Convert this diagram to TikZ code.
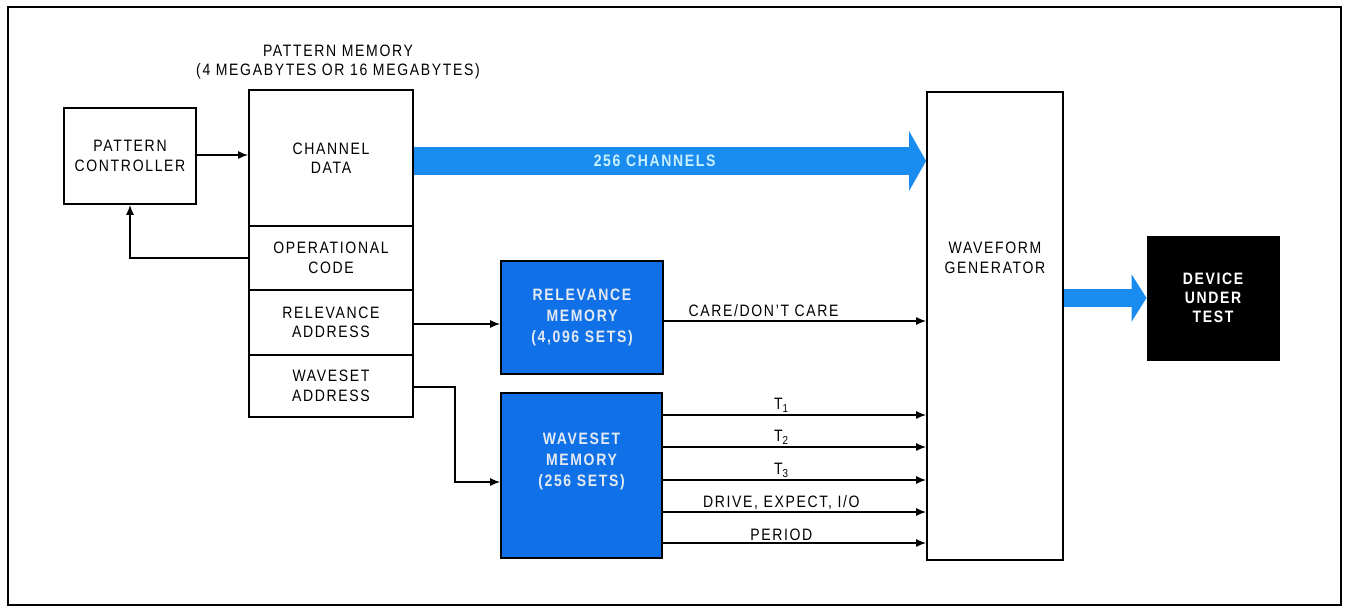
\documentclass[tikz,border=0pt]{standalone}
\usepackage{fontspec}
\setmainfont{Liberation Sans}[FakeStretch=0.85,LetterSpace=10]
\usetikzlibrary{arrows.meta,positioning,calc}

\definecolor{boxblue}{RGB}{16,112,232}
\definecolor{flowblue}{RGB}{26,140,240}
\definecolor{flowtext}{RGB}{200,240,255}
\definecolor{boxtext}{RGB}{228,234,242}

\begin{document}
\begin{tikzpicture}[
    x=1pt,y=-1pt,
    font=\fontsize{16.5}{19.5}\selectfont,
    block/.style={rectangle,draw,line width=1.8pt,align=center,inner sep=0pt},
    memblock/.style={block,fill=boxblue,text=boxtext,font=\fontsize{16.5}{21}\selectfont\bfseries},
    txt/.style={align=center,inner sep=1pt},
    arrow/.style={line width=1.3pt,-{Latex[length=10pt,width=8pt]}},
    bus/.style={draw=flowblue,line width=#1}
]
    \useasboundingbox (0,0) rectangle (1351,608);
    \draw[line width=2.4pt] (8,7) rectangle (1341,605);

    % pattern memory column
    \node[txt] (title) at (338,62) {PATTERN MEMORY\\(4 MEGABYTES OR 16 MEGABYTES)};
    \node[block,minimum width=132,minimum height=96] (ctrl) at (130,156) {PATTERN\\CONTROLLER};
    \node[block,minimum width=164,minimum height=136] (chdata) at (331,158) {CHANNEL\\DATA};
    \node[block,minimum width=164,minimum height=64] (opcode) at (331,258) {OPERATIONAL\\CODE};
    \node[block,minimum width=164,minimum height=65] (reladdr) at (331,322.5) {RELEVANCE\\ADDRESS};
    \node[block,minimum width=164,minimum height=62] (wsaddr) at (331,386) {WAVESET\\ADDRESS};

    % memories
    \node[memblock,minimum width=162,minimum height=113] (relmem) at (582,317.5) {RELEVANCE\\MEMORY\\(4,096 SETS)};
    \node[memblock,minimum width=161,minimum height=165] (wsmem) at (581.5,475.5) {WAVESET\\MEMORY\\(256 SETS)\\[10pt]};

    % generator and device
    \node[block,minimum width=136,minimum height=468] (wfgen) at (995,326) {};
    \node[txt] (wflabel) at (995,258) {WAVEFORM\\GENERATOR};
    \node[block,fill=black,text=white,line width=1pt,minimum width=132,minimum height=124,
          font=\fontsize{16.5}{19}\selectfont\bfseries] (dut) at (1213,298) {DEVICE\\UNDER\\TEST};

    % wide data paths
    \draw[bus=28pt,-{Triangle[length=17pt,width=59pt]}] ([yshift=-3pt]chdata.east) -- ([yshift=-3pt]chdata.east -| wfgen.west)
        node[pos=0.47,text=flowtext,font=\fontsize{16.5}{19}\selectfont\bfseries] (chlabel) {256 CHANNELS};
    \draw[bus=18pt,-{Triangle[length=15pt,width=47pt]}] (wfgen.east |- dut.west) -- (dut.west);

    % control lines
    \draw[arrow] ([yshift=1pt]ctrl.east) -- ([yshift=1pt]ctrl.east -| chdata.west);
    \draw[arrow] (opcode.west) -| (ctrl.south);
    \draw[arrow] ([yshift=-1.5pt]reladdr.east) -- ([yshift=-1.5pt]reladdr.east -| relmem.west);
    \draw[arrow] ([yshift=-1pt]wsaddr.east) -- ([xshift=41pt,yshift=-1pt]wsaddr.east) |- ([yshift=-6.5pt]wsmem.west);
    \draw[arrow] ([yshift=-3.5pt]relmem.east) -- ([yshift=-3.5pt]relmem.east -| wfgen.west)
        node[pos=0.38,above=3pt,txt] (carelabel) {CARE/DON'T CARE};

    \foreach \y/\lab in {415/T\textsubscript{1},447/T\textsubscript{2},480/T\textsubscript{3},512/{DRIVE, EXPECT, I/O},543/PERIOD}
        \draw[arrow] (wsmem.east |- 0,\y) -- (wfgen.west |- 0,\y) node[pos=0.45,above=1pt,txt] {\lab};
\end{tikzpicture}
\end{document}
